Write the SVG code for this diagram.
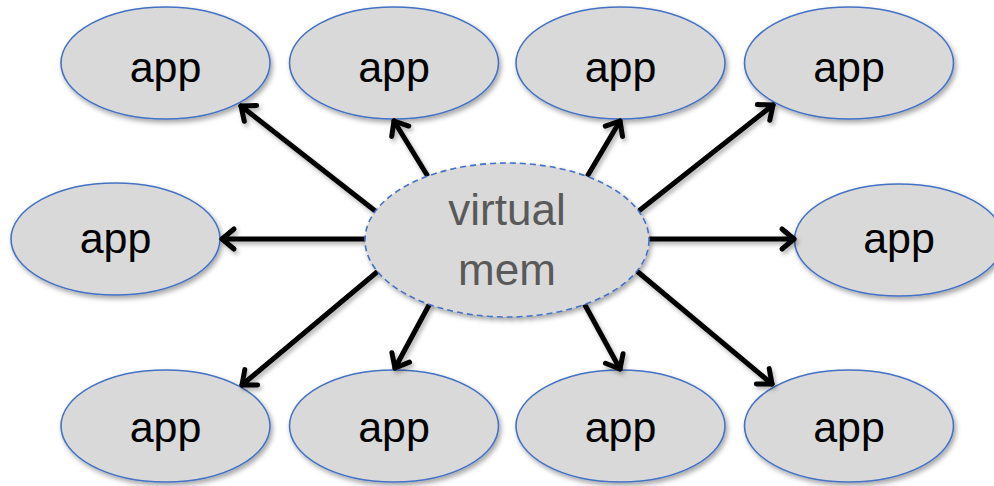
<svg xmlns="http://www.w3.org/2000/svg" width="994" height="486" viewBox="0 0 994 486">
<defs>
<filter id="sh" x="-20%" y="-20%" width="140%" height="150%">
<feDropShadow dx="2" dy="3" stdDeviation="2.5" flood-color="#000" flood-opacity="0.35"/>
</filter>
<filter id="shl" filterUnits="userSpaceOnUse" x="0" y="0" width="994" height="486">
<feDropShadow dx="2" dy="3" stdDeviation="2" flood-color="#000" flood-opacity="0.3"/>
</filter>
<marker id="ah" markerUnits="userSpaceOnUse" markerWidth="30" markerHeight="30" refX="17" refY="12" orient="auto" viewBox="0 0 30 24">
<path d="M5,2 L17,12 L5,22" fill="none" stroke="#000" stroke-width="5" stroke-linecap="round" stroke-linejoin="round"/>
</marker>
</defs>
<style>
.app ellipse{fill:#d9d9d9;stroke:#4472c4;stroke-width:1.6;filter:url(#sh)}
.app text{font-family:"Liberation Sans",Arial,sans-serif;font-size:43px;fill:#000;text-anchor:middle}
.vm ellipse{fill:#d9d9d9;stroke:#4472c4;stroke-width:1.6;stroke-dasharray:6 4;filter:url(#sh)}
.vm text{font-family:"Liberation Sans",Arial,sans-serif;font-size:44px;fill:#595959;text-anchor:middle}
.conn{filter:url(#shl)}
.conn line{stroke:#000;stroke-width:5;stroke-linecap:round;marker-end:url(#ah)}
</style>
<g id="app1" class="app"><ellipse cx="165.5" cy="63" rx="104.5" ry="56"/><text x="165.5" y="82">app</text></g>
<g id="app2" class="app"><ellipse cx="394" cy="63" rx="104.5" ry="56"/><text x="394" y="82">app</text></g>
<g id="app3" class="app"><ellipse cx="620.5" cy="63" rx="104.5" ry="56"/><text x="620.5" y="82">app</text></g>
<g id="app4" class="app"><ellipse cx="849" cy="63" rx="104.5" ry="56"/><text x="849" y="82">app</text></g>
<g id="app5" class="app"><ellipse cx="115.5" cy="239" rx="104.5" ry="56"/><text x="115.5" y="253">app</text></g>
<g id="app6" class="app"><ellipse cx="899" cy="240" rx="104.5" ry="56"/><text x="899" y="253">app</text></g>
<g id="app7" class="app"><ellipse cx="165.5" cy="426" rx="104.5" ry="56"/><text x="165.5" y="442">app</text></g>
<g id="app8" class="app"><ellipse cx="394" cy="426" rx="104.5" ry="56"/><text x="394" y="442">app</text></g>
<g id="app9" class="app"><ellipse cx="620.5" cy="426" rx="104.5" ry="56"/><text x="620.5" y="442">app</text></g>
<g id="app10" class="app"><ellipse cx="849" cy="426" rx="104.5" ry="56"/><text x="849" y="442">app</text></g>
<g id="conns" class="conn">
<line x1="374" y1="210" x2="241" y2="106"/>
<line x1="427" y1="175" x2="394" y2="121"/>
<line x1="588" y1="175" x2="620" y2="121"/>
<line x1="640" y1="210" x2="773" y2="105"/>
<line x1="365" y1="239" x2="222" y2="239"/>
<line x1="650" y1="239" x2="794" y2="239"/>
<line x1="377" y1="272" x2="242" y2="385"/>
<line x1="429" y1="305" x2="395" y2="368"/>
<line x1="585" y1="305" x2="620" y2="369"/>
<line x1="638" y1="272" x2="772" y2="384"/>
</g>
<g id="vmem" class="vm"><ellipse cx="507" cy="240" rx="142" ry="77"/><text x="507" y="225">virtual</text><text x="507" y="285">mem</text></g>
</svg>
